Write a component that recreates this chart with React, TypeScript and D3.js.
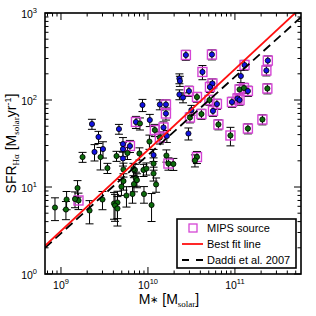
import React from "react";
import * as d3 from "d3";

// stellar mass [Msolar], H-alpha SFR [Msolar/yr], 1-sigma error
const mass = [
  2.27e9, 4.64e9, 2.7e9, 2.43e9, 3.04e9, 1.77e9, 2.85e9, 3.42e9, 4.35e9, 5.16e9,
  5.16e9, 5.16e9, 5.23e9, 6.21e9, 5.81e9, 7.98e9, 7.28e9, 8.09e9, 8.65e9, 1.05e10,
  1.2e10, 1.37e10, 1.61e10, 1.04e10, 1.37e10, 1.51e10, 1.61e10, 1.65e10, 2.3e10, 2.33e10,
  2.3e10, 2.53e10, 2.96e10, 3.66e10, 2.73e10, 5.44e10, 4.23e10, 2.39e11, 1.29e11, 2.3e11,
  1.17e11, 5.51e10, 5.16e10, 1.13e11, 1.27e11, 1.41e11, 2.36e11, 1.07e11, 1.13e11, 9.24e10,
  5.09e10, 6.21e10, 5.59e10, 3.16e10, 3.04e10, 4.12e10, 6.46e10, 2.07e11, 1.41e11, 8.88e10,
  2.92e10, 3.66e10, 3.47e10, 1.16e10, 1.63e10, 1.72e10, 1.96e10, 1.16e10, 1.16e10, 1.24e10,
  1.1e10, 7.09e9, 8.88e9, 9.61e9, 7.28e9, 8.53e8, 1.16e9, 1.14e9, 1.55e9, 1.59e9,
  1.45e9, 2.13e9, 3.0e9, 4.07e9, 4.46e9, 4.18e9, 4.46e9, 4.96e9, 5.23e9, 5.66e9,
  6.64e9, 6.9e9, 7.47e9, 9.0e9, 6.81e9,
];
const sfr = [
  53, 46.4, 37.6, 25.3, 27.3, 22.1, 22.1, 16.5, 22.7, 31.2,
  27.3, 21.3, 15.9, 29.6, 24.6, 24.3, 55.9, 53.7, 87.6, 58.9,
  45.2, 88.8, 88.8, 33.3, 37.1, 48.3, 69.9, 38.6, 176.7, 165.3,
  115.7, 106.8, 126.9, 108.2, 329, 333, 210, 284, 252.5, 218.3,
  188.7, 154.8, 141, 132, 137.4, 126.9, 135.6, 104, 100, 94.8,
  100, 90, 74.8, 76.7, 62.9, 69, 52.3, 59.7, 47, 39.1,
  41.2, 22.1, 20.2, 23.3, 23, 18.6, 18.4, 18.6, 14.3, 10.7,
  6.21, 15.7, 15.7, 16.3, 12.5, 5.81, 7.18, 5.51, 9.74, 7.0,
  7.28, 5.37, 7.18, 6.46, 6.63, 6.13, 5.66, 10.1, 11.7, 7.98,
  8.31, 10.8, 12.0, 8.31, 16.1,
];
const sfrErr = [
  7, 6, 6, 5.4, 5.8, 2.9, 6.4, 2.2, 3, 5.8,
  5, 3.9, 2.9, 4.7, 3.9, 3.9, 8.9, 8.5, 14, 9.4,
  7.2, 11.7, 11.7, 6.2, 5.9, 7.7, 11.1, 6.1, 23, 22,
  15, 14, 17, 14, 43, 44, 39, 37, 33, 29,
  30, 20, 19, 17, 18, 17, 18, 14, 13, 12.5,
  13, 12, 10, 10, 8.3, 9.1, 6.9, 7.9, 6.2, 9.4,
  6.5, 3.5, 3.2, 3.7, 3.7, 3, 2.9, 3, 2.6, 2,
  2.2, 2.5, 2.5, 2.6, 2.3, 1.7, 1.7, 1.3, 2.1, 1.5,
  1.5, 1.6, 1.7, 2.2, 2.3, 2.1, 2.1, 2.1, 2.5, 2.1,
  1.8, 2, 2.2, 1.8, 2.6,
];
// "b" = blue sample, "g" = green sample
const group = [
  "b", "b", "b", "b", "b", "g", "g", "g", "g", "b",
  "b", "b", "g", "b", "g", "g", "b", "g", "b", "b",
  "g", "b", "b", "g", "g", "b", "b", "b", "b", "b",
  "b", "b", "b", "g", "b", "b", "b", "b", "b", "b",
  "b", "b", "b", "g", "g", "b", "g", "b", "b", "b",
  "g", "b", "b", "b", "g", "g", "g", "g", "g", "g",
  "b", "g", "g", "b", "g", "g", "g", "g", "g", "g",
  "g", "g", "g", "g", "g", "g", "g", "g", "g", "g",
  "g", "g", "g", "g", "g", "g", "g", "g", "g", "g",
  "g", "g", "g", "g", "g",
];
// 1 = MIPS 24um detection
const mips = [
  0, 0, 0, 0, 0, 0, 0, 0, 0, 0,
  0, 0, 0, 1, 0, 0, 1, 0, 0, 0,
  1, 0, 1, 0, 1, 1, 1, 0, 0, 0,
  0, 0, 1, 1, 1, 1, 1, 1, 1, 1,
  0, 1, 1, 1, 1, 1, 1, 1, 1, 1,
  1, 1, 1, 0, 1, 1, 1, 1, 1, 1,
  0, 1, 0, 0, 0, 1, 0, 0, 0, 0,
  0, 0, 0, 0, 0, 0, 0, 0, 0, 1,
  0, 0, 0, 0, 0, 0, 0, 0, 0, 0,
  0, 0, 0, 0, 0,
];

// log SFR = a + b * (log M - 10)
const bestFit = { a: 1.425, b: 0.93 };
// Daddi et al. 2007: SFR = 185 (M / 1e11)^0.9
const daddi = { norm: 185, slope: 0.9 };

const xDecades = [1e9, 1e10, 1e11];
const yDecades = [1, 10, 100, 1000];
const legendItems = ["MIPS source", "Best fit line", "Daddi et al. 2007"];

const W = 316;
const H = 316;
const m = { left: 45, right: 15, top: 13, bottom: 42 };
const FONT = "'Liberation Sans', Arial, Helvetica, sans-serif";
const SERIF = "'Liberation Serif', 'Times New Roman', serif";

export default function App() {
  const x = d3.scaleLog().domain([6.55e8, 5.75e11]).range([m.left, W - m.right]);
  const y = d3.scaleLog().domain([1, 1000]).range([H - m.bottom, m.top]);
  const [x0, x1] = x.range();
  const [yb, yt] = y.range();

  const points = mass.map((M, i) => ({
    M,
    s: sfr[i],
    e: sfrErr[i],
    g: group[i],
    mips: mips[i] === 1,
  }));

  const fitLine = d3
    .line<number>()
    .x((M) => x(M))
    .y((M) => y(Math.pow(10, bestFit.a + bestFit.b * (Math.log10(M) - 10))));
  const daddiLine = d3
    .line<number>()
    .x((M) => x(M))
    .y((M) => y(daddi.norm * Math.pow(M / 1e11, daddi.slope)));
  const lineXs = x.domain();

  const xMinor: number[] = [];
  [1e8, 1e9, 1e10, 1e11].forEach((d) => {
    for (let k = 2; k <= 9; k++) {
      const v = d * k;
      if (v > x.domain()[0] && v < x.domain()[1]) xMinor.push(v);
    }
  });
  const yMinor: number[] = [];
  [1, 10, 100].forEach((d) => {
    for (let k = 2; k <= 9; k++) yMinor.push(d * k);
  });

  const lx = 177;
  const ly = 219;

  return (
    <svg
      width={W}
      height={H}
      style={{ position: "absolute", left: 0, top: 0, background: "white" }}
      fontFamily={FONT}
    >
      <defs>
        <clipPath id="plotclip">
          <rect x={x0} y={yt} width={x1 - x0} height={yb - yt} />
        </clipPath>
      </defs>

      {/* error bars */}
      <g stroke="#000" strokeWidth={1}>
        {points.map((p, i) => {
          const cx = x(p.M);
          const ylo = y(Math.max(p.s - p.e, 0.5));
          const yhi = y(p.s + p.e);
          return (
            <g key={i}>
              <line x1={cx} x2={cx} y1={ylo} y2={yhi} />
              <line x1={cx - 4} x2={cx + 4} y1={ylo} y2={ylo} />
              <line x1={cx - 4} x2={cx + 4} y1={yhi} y2={yhi} />
            </g>
          );
        })}
      </g>

      {/* MIPS squares */}
      <g fill="none" stroke="#d545d5" strokeWidth={1.4}>
        {points
          .filter((p) => p.mips)
          .map((p, i) => (
            <rect key={i} x={x(p.M) - 4.5} y={y(p.s) - 4.5} width={9} height={9} />
          ))}
      </g>

      {/* points */}
      <g stroke="#000" strokeWidth={0.8}>
        {points.map((p, i) => (
          <circle
            key={i}
            cx={x(p.M)}
            cy={y(p.s)}
            r={2.6}
            fill={p.g === "b" ? "#1212e0" : "#0b6b0b"}
          />
        ))}
      </g>

      <g clipPath="url(#plotclip)" fill="none">
        <path d={daddiLine(lineXs) || ""} stroke="#000" strokeWidth={1.8} strokeDasharray="9,5" />
        <path d={fitLine(lineXs) || ""} stroke="#ff1010" strokeWidth={1.8} />
      </g>

      {/* ticks */}
      <g stroke="#000" strokeWidth={1}>
        {xDecades.map((v) => (
          <g key={"xM" + v}>
            <line x1={x(v)} x2={x(v)} y1={yb} y2={yb - 7} />
            <line x1={x(v)} x2={x(v)} y1={yt} y2={yt + 7} />
          </g>
        ))}
        {xMinor.map((v) => (
          <g key={"xm" + v}>
            <line x1={x(v)} x2={x(v)} y1={yb} y2={yb - 3.5} />
            <line x1={x(v)} x2={x(v)} y1={yt} y2={yt + 3.5} />
          </g>
        ))}
        {yDecades.map((v) => (
          <g key={"yM" + v}>
            <line x1={x0} x2={x0 + 7} y1={y(v)} y2={y(v)} />
            <line x1={x1} x2={x1 - 7} y1={y(v)} y2={y(v)} />
          </g>
        ))}
        {yMinor.map((v) => (
          <g key={"ym" + v}>
            <line x1={x0} x2={x0 + 3.5} y1={y(v)} y2={y(v)} />
            <line x1={x1} x2={x1 - 3.5} y1={y(v)} y2={y(v)} />
          </g>
        ))}
      </g>

      <rect x={x0} y={yt} width={x1 - x0} height={yb - yt} fill="none" stroke="#000" strokeWidth={1.6} />

      {/* tick labels */}
      <g fontSize={10.5} fill="#000">
        {xDecades.map((v) => (
          <text key={"xl" + v} x={x(v)} y={289} textAnchor="middle">
            10<tspan dy={-5} fontSize={7.5}>{Math.round(Math.log10(v))}</tspan>
          </text>
        ))}
        {yDecades.map((v) => (
          <text key={"yl" + v} x={37} y={y(v) + 5} textAnchor="end">
            10<tspan dy={-5} fontSize={7.5}>{Math.round(Math.log10(v))}</tspan>
          </text>
        ))}
      </g>

      {/* axis titles */}
      <text x={169} y={304} textAnchor="middle" fontSize={14}>
        M<tspan fontSize={10} dy={-1}>∗</tspan>
        <tspan dy={1}> [M</tspan>
        <tspan fontFamily={SERIF} fontSize={9} dy={3}>solar</tspan>
        <tspan dy={-3}>]</tspan>
      </text>
      <text transform={`translate(16,${(yt + yb) / 2}) rotate(-90)`} textAnchor="middle" fontSize={14}>
        SFR<tspan fontFamily={SERIF} fontSize={9} dy={3}>Hα</tspan>
        <tspan dy={-3}> [M</tspan>
        <tspan fontFamily={SERIF} fontSize={9} dy={3}>solar</tspan>
        <tspan dy={-3}>yr</tspan>
        <tspan fontSize={9} dy={-5}>-1</tspan>
        <tspan dy={5}>]</tspan>
      </text>

      {/* legend */}
      <g>
        <rect x={lx} y={ly} width={119} height={49} fill="#fff" stroke="#000" strokeWidth={1.6} />
        <rect x={lx + 12} y={ly + 5} width={8} height={8} fill="none" stroke="#d545d5" strokeWidth={1.3} />
        <line x1={lx + 5} x2={lx + 26} y1={ly + 25} y2={ly + 25} stroke="#ff1010" strokeWidth={1.8} />
        <line x1={lx + 5} x2={lx + 26} y1={ly + 41} y2={ly + 41} stroke="#000" strokeWidth={1.8} strokeDasharray="7,7" />
        {legendItems.map((t, i) => (
          <text key={t} x={lx + 30} y={ly + 13 + i * 16} fontSize={11}>
            {t}
          </text>
        ))}
      </g>
    </svg>
  );
}
